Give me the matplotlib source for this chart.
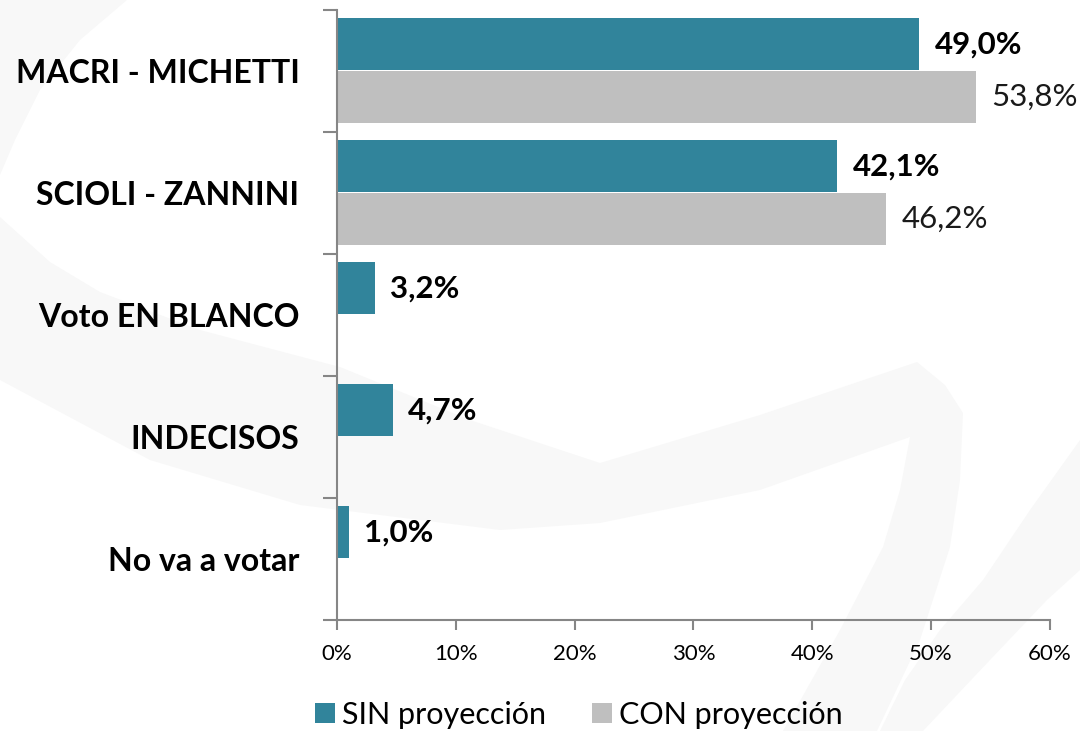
import matplotlib
matplotlib.use("Agg")
import matplotlib.pyplot as plt
from matplotlib.patches import Polygon
import numpy as np

plt.rcParams['font.family'] = ['Lato', 'DejaVu Sans']

# data
categorias = ["MACRI - MICHETTI", "SCIOLI - ZANNINI", "Voto EN BLANCO", "INDECISOS", "No va a votar"]
sin_proy = [49.0, 42.1, 3.2, 4.7, 1.0]
con_proy = [53.8, 46.2, None, None, None]
series = ["SIN proyección", "CON proyección"]
xticks = [0, 10, 20, 30, 40, 50, 60]

teal = "#31849B"
gris = "#BFBFBF"
eje = "#868686"

fig = plt.figure(figsize=(10.8, 7.31), dpi=100)

# faint watermark swoosh in the background (pixel coords -> figure fraction)
def px(pts):
    return [(x / 1080, 1 - y / 731) for x, y in pts]

wm = "#F8F8F8"
formas = [
    [(0, 0), (127, 0), (80, 40), (40, 90), (15, 140), (0, 175)],
    [(0, 217), (50, 262), (100, 292), (200, 330), (340, 367), (470, 420),
     (600, 463), (760, 415), (917, 362), (945, 385), (963, 413),
     (960, 480), (950, 547), (920, 640), (877, 731), (783, 731),
     (840, 630), (883, 547), (900, 490), (910, 437), (760, 490),
     (600, 523), (500, 530), (300, 505), (150, 460), (0, 380)],
    [(1080, 440), (1030, 510), (983, 580), (940, 630), (905, 680), (880, 731),
     (923, 731), (990, 660), (1047, 600), (1080, 570)],
]
for f in formas:
    fig.patches.append(Polygon(px(f), closed=True, transform=fig.transFigure,
                               color=wm, lw=0, zorder=-5))

ax = fig.add_axes([0.312, 0.1518, 0.66, 0.8345])
ax.patch.set_alpha(0)

n = len(categorias)
pos = np.arange(n)
h = 0.428
ax.barh(pos - 0.22, sin_proy, height=h, color=teal, label=series[0], zorder=2)
con_pos = [p + 0.214 for p, v in zip(pos, con_proy) if v is not None]
con_val = [v for v in con_proy if v is not None]
ax.barh(con_pos, con_val, height=h, color=gris, label=series[1], zorder=2)

for p, v in zip(pos, sin_proy):
    ax.text(v + 1.3, p - 0.22, f"{v:.1f}".replace(".", ",") + "%", va="center", ha="left",
            fontsize=22.5, fontweight="bold", color="black")
for p, v in zip(con_pos, con_val):
    ax.text(v + 1.3, p, f"{v:.1f}".replace(".", ",") + "%", va="center", ha="left",
            fontsize=22.5, color="#1a1a1a")

ax.set_xlim(0, 60)
ax.set_ylim(n - 0.5, -0.5)
ax.set_xticks(xticks)
ax.set_xticklabels([f"{t}%" for t in xticks], fontsize=16)
ax.set_yticks(np.arange(-0.5, n, 1))
ax.set_yticklabels([])
ax.set_yticks(pos, minor=True)
ax.set_yticklabels(categorias, minor=True, fontsize=23, fontweight="bold")
ax.tick_params(axis="y", which="minor", length=0, pad=27)
ax.tick_params(axis="y", which="major", length=10, width=1.5, color=eje)
ax.tick_params(axis="x", length=7, width=1.5, color=eje, pad=10)

for s in ["top", "right"]:
    ax.spines[s].set_visible(False)
for s in ["left", "bottom"]:
    ax.spines[s].set_color(eje)
    ax.spines[s].set_linewidth(1.5)

fig.legend(loc="center", bbox_to_anchor=(0.536, 0.022), ncol=2, frameon=False, fontsize=22,
           handlelength=0.65, handleheight=0.65, handletextpad=0.25, columnspacing=1.5)

fig.savefig("out.png", dpi=100)
